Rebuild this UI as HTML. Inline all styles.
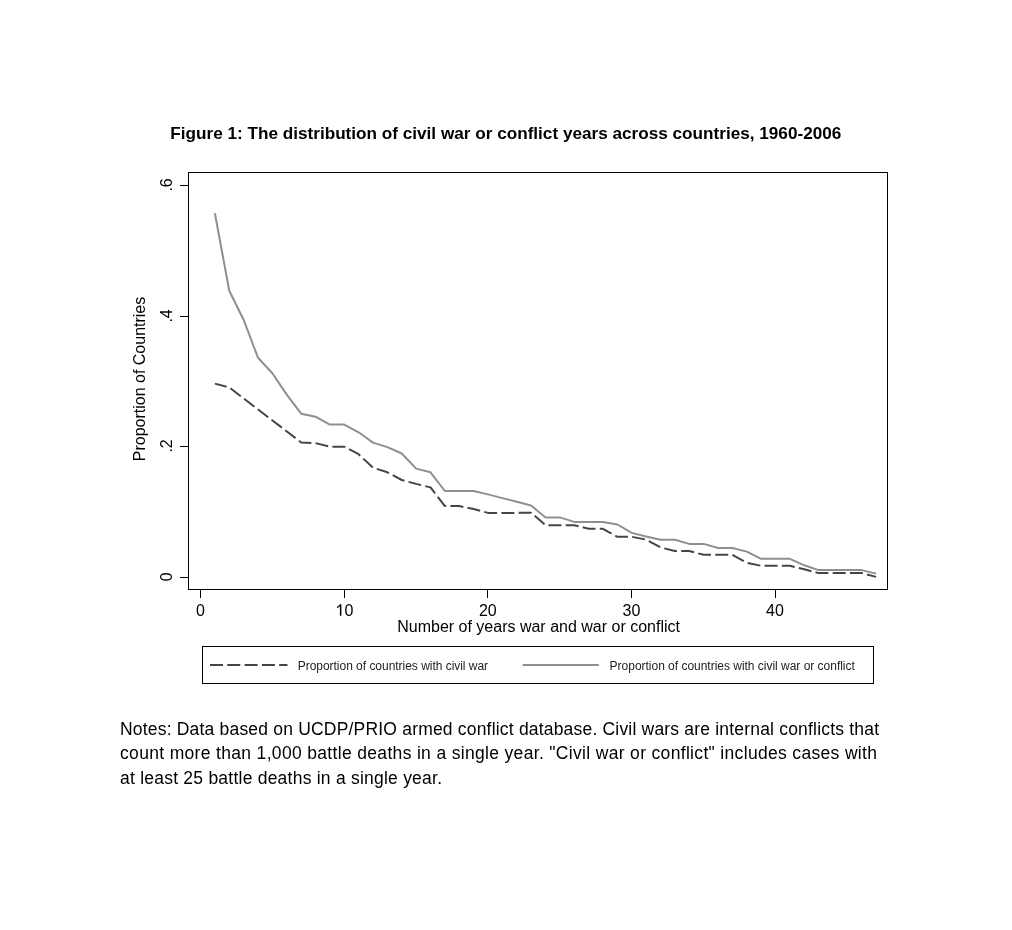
<!DOCTYPE html>
<html><head><meta charset="utf-8"><style>
html,body{margin:0;padding:0;background:#fff;}
body{width:1012px;height:930px;overflow:hidden;}
svg{display:block;will-change:transform;}
text{font-family:"Liberation Sans",sans-serif;}
</style></head><body>
<svg width="1012" height="930" viewBox="0 0 1012 930">
<rect x="0" y="0" width="1012" height="930" fill="#fff"/>
<text x="170.3" y="138.7" font-size="17" font-weight="bold" fill="#000" textLength="671" lengthAdjust="spacingAndGlyphs">Figure 1: The distribution of civil war or conflict years across countries, 1960-2006</text>
<rect x="188.5" y="172.5" width="699" height="417" fill="none" stroke="#000" stroke-width="1"/>
<g stroke="#000" stroke-width="1">
<path d="M180,185.5H188M180,316.5H188M180,446.5H188M180,577.5H188"/>
<path d="M200.5,590V598M344.5,590V598M487.5,590V598M631.5,590V598M775.5,590V598"/>
</g>
<g font-size="16" fill="#000" text-anchor="middle">
<text x="200.5" y="615.8">0</text>
<text x="348.9" y="615.8">0</text><path d="M339.9,604.2H341.4V615.8H339.9V606.3Q338.8,607.4 337,608.2V606.8Q339,605.8 339.9,604.2Z" stroke="none"/>
<text x="487.8" y="615.8">20</text>
<text x="631.5" y="615.8">30</text>
<text x="775.0" y="615.8">40</text>
<text transform="translate(172.1,576.9) rotate(-90)">0</text>
<text transform="translate(172.1,445.9) rotate(-90)">.2</text>
<text transform="translate(172.1,315.9) rotate(-90)">.4</text>
<text transform="translate(172.1,184.9) rotate(-90)">.6</text>
<text transform="translate(145,379) rotate(-90)">Proportion of Countries</text>
<text x="538.6" y="631.6">Number of years war and war or conflict</text>
</g>
<polyline points="214.88,383.60 229.25,387.40 301.12,442.40 315.50,443.10 329.88,446.70 344.25,446.70 358.62,454.20 373.00,467.70 387.38,472.30 401.75,480.00 416.12,483.90 430.50,487.40 444.88,506.10 459.25,506.10 473.62,509.00 488.00,512.90 502.38,512.90 516.75,512.90 531.12,512.70 545.50,525.20 559.88,525.20 574.25,525.20 588.62,528.80 603.00,528.80 617.38,536.80 631.75,536.80 646.12,539.60 660.50,547.40 674.88,551.00 689.25,551.00 703.62,554.80 718.00,554.80 732.38,554.80 746.75,562.80 761.12,565.80 775.50,565.80 789.88,565.80 804.25,569.30 818.62,573.10 833.00,573.10 847.38,573.10 861.75,573.10 876.12,576.90" fill="none" stroke="#454545" stroke-width="2" stroke-dasharray="13 4.25" stroke-dashoffset="0.9" stroke-linejoin="round"/>
<polyline points="214.88,213.20 229.25,290.80 243.62,319.70 258.00,357.80 272.38,373.30 286.75,394.60 301.12,413.70 315.50,416.70 329.88,424.60 344.25,424.60 358.62,432.30 373.00,442.60 387.38,447.10 401.75,453.50 416.12,468.60 430.50,472.30 444.88,491.00 459.25,491.00 473.62,491.00 488.00,494.40 502.38,498.10 516.75,501.80 531.12,505.50 545.50,517.40 559.88,517.40 574.25,521.90 588.62,521.90 603.00,521.90 617.38,524.50 631.75,532.90 646.12,536.50 660.50,539.70 674.88,539.70 689.25,543.90 703.62,543.90 718.00,548.00 732.38,548.00 746.75,551.60 761.12,558.80 775.50,558.80 789.88,558.80 804.25,565.30 818.62,570.10 833.00,570.10 847.38,570.10 861.75,570.10 876.12,573.60" fill="none" stroke="#8f8f8f" stroke-width="2" stroke-linejoin="round"/>
<rect x="202.5" y="646.5" width="671" height="37" fill="none" stroke="#000" stroke-width="1"/>
<path d="M210,665H287.5" stroke="#454545" stroke-width="2" stroke-dasharray="13 4.3"/>
<path d="M522.7,665H598.8" stroke="#8f8f8f" stroke-width="2"/>
<g font-size="12" fill="#222">
<text x="297.7" y="669.6" textLength="190.4">Proportion of countries with civil war</text>
<text x="609.6" y="669.6" textLength="245.2">Proportion of countries with civil war or conflict</text>
</g>
<g font-size="17.5" fill="#000">
<text x="120" y="734.7" textLength="759">Notes: Data based on UCDP/PRIO armed conflict database. Civil wars are internal conflicts that</text>
<text x="120" y="758.9" textLength="757">count more than 1,000 battle deaths in a single year. "Civil war or conflict" includes cases with</text>
<text x="120" y="783.7" textLength="322">at least 25 battle deaths in a single year.</text>
</g>
</svg>
</body></html>
